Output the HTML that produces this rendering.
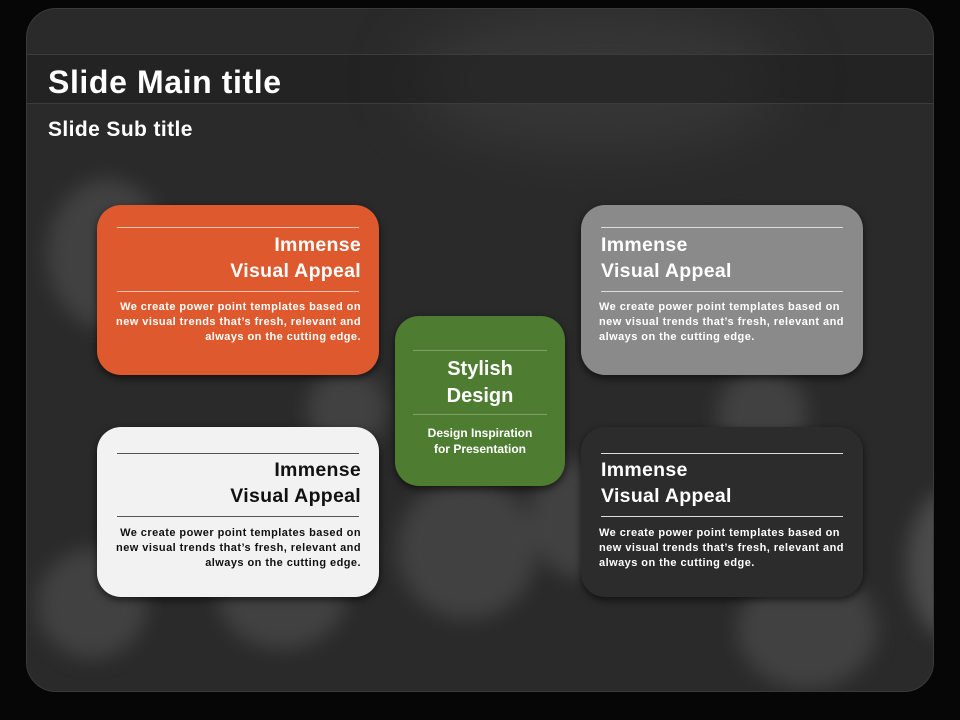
<!DOCTYPE html>
<html><head><style>
*{margin:0;padding:0;box-sizing:border-box}
body{width:960px;height:720px;background:#060606;position:relative;overflow:hidden;font-family:"Liberation Sans","DejaVu Sans",sans-serif;font-weight:bold}
.panel{position:absolute;left:26px;top:8px;width:908px;height:684px;border-radius:30px;background:#2a2a2a;overflow:hidden;border:1px solid #3a3a3a}
.b{position:absolute;border-radius:50%;background:#555;filter:blur(10px);opacity:.55}
.band{position:absolute;left:0;top:45px;width:908px;height:50px;background:rgba(30,30,30,.55);border-top:1px solid #3c3c3c;border-bottom:1px solid #3c3c3c}
.t{position:absolute;color:#fff}
.box{position:absolute;width:282px;height:170px;border-radius:24px;box-shadow:0 3px 8px rgba(0,0,0,.6)}
.box .l{position:absolute;left:20px;right:20px;height:1px}
.box .h{position:absolute;left:20px;right:18px;font-size:19.5px;line-height:26px;letter-spacing:.3px}
.box .p{position:absolute;left:10px;right:18px;font-size:11px;line-height:15px;letter-spacing:.45px;white-space:nowrap}
.r{text-align:right}
</style></head><body>
<div class="panel">
<div class="b" style="left:380px;top:0;width:380px;height:140px;background:#444;opacity:.5;filter:blur(30px)"></div>
<div class="b" style="left:20px;top:170px;width:120px;height:150px"></div>
<div class="b" style="left:10px;top:540px;width:110px;height:110px"></div>
<div class="b" style="left:190px;top:530px;width:130px;height:110px"></div>
<div class="b" style="left:370px;top:470px;width:140px;height:140px"></div>
<div class="b" style="left:500px;top:450px;width:120px;height:120px"></div>
<div class="b" style="left:710px;top:560px;width:140px;height:120px"></div>
<div class="b" style="left:880px;top:480px;width:90px;height:150px;background:#666"></div>
<div class="b" style="left:690px;top:360px;width:90px;height:90px"></div>
<div class="b" style="left:280px;top:360px;width:80px;height:80px"></div>
<div class="band"></div>
<div class="t" style="left:21px;top:55px;font-size:32px;letter-spacing:.6px">Slide Main title</div>
<div class="t" style="left:21px;top:109px;font-size:21px;letter-spacing:.4px">Slide Sub title</div>
</div>

<div class="box" style="left:97px;top:205px;background:#de5a2e;color:#fff">
<div class="l" style="top:22px;background:#f2c1ad"></div>
<div class="h r" style="top:27px">Immense<br>Visual Appeal</div>
<div class="l" style="top:86px;background:#f2c1ad"></div>
<div class="p r" style="top:95px">We create power point templates based on<br>new visual trends that’s fresh, relevant and<br>always on the cutting edge.</div>
</div>

<div class="box" style="left:581px;top:205px;background:#8a8a8a;color:#fff">
<div class="l" style="top:22px;background:#ddd"></div>
<div class="h" style="top:27px">Immense<br>Visual Appeal</div>
<div class="l" style="top:86px;background:#ddd"></div>
<div class="p" style="left:18px;right:0;top:95px">We create power point templates based on<br>new visual trends that’s fresh, relevant and<br>always on the cutting edge.</div>
</div>

<div class="box" style="left:97px;top:427px;background:#f2f2f2;color:#111">
<div class="l" style="top:26px;background:#555"></div>
<div class="h r" style="top:30px">Immense<br>Visual Appeal</div>
<div class="l" style="top:89px;background:#555"></div>
<div class="p r" style="top:99px">We create power point templates based on<br>new visual trends that’s fresh, relevant and<br>always on the cutting edge.</div>
</div>

<div class="box" style="left:581px;top:427px;background:#2c2c2c;color:#fff">
<div class="l" style="top:26px;background:#ddd"></div>
<div class="h" style="top:30px">Immense<br>Visual Appeal</div>
<div class="l" style="top:89px;background:#ddd"></div>
<div class="p" style="left:18px;right:0;top:99px">We create power point templates based on<br>new visual trends that’s fresh, relevant and<br>always on the cutting edge.</div>
</div>

<div class="box" style="left:395px;top:316px;width:170px;height:170px;background:#4e7d32;color:#fff;text-align:center">
<div class="l" style="left:18px;right:18px;top:34px;background:#7da064"></div>
<div style="position:absolute;left:0;right:0;top:40px;font-size:20px;line-height:27px">Stylish<br>Design</div>
<div class="l" style="left:18px;right:18px;top:98px;background:#7da064"></div>
<div style="position:absolute;left:0;right:0;top:109px;font-size:12px;line-height:16px">Design Inspiration<br>for Presentation</div>
</div>
</body></html>
